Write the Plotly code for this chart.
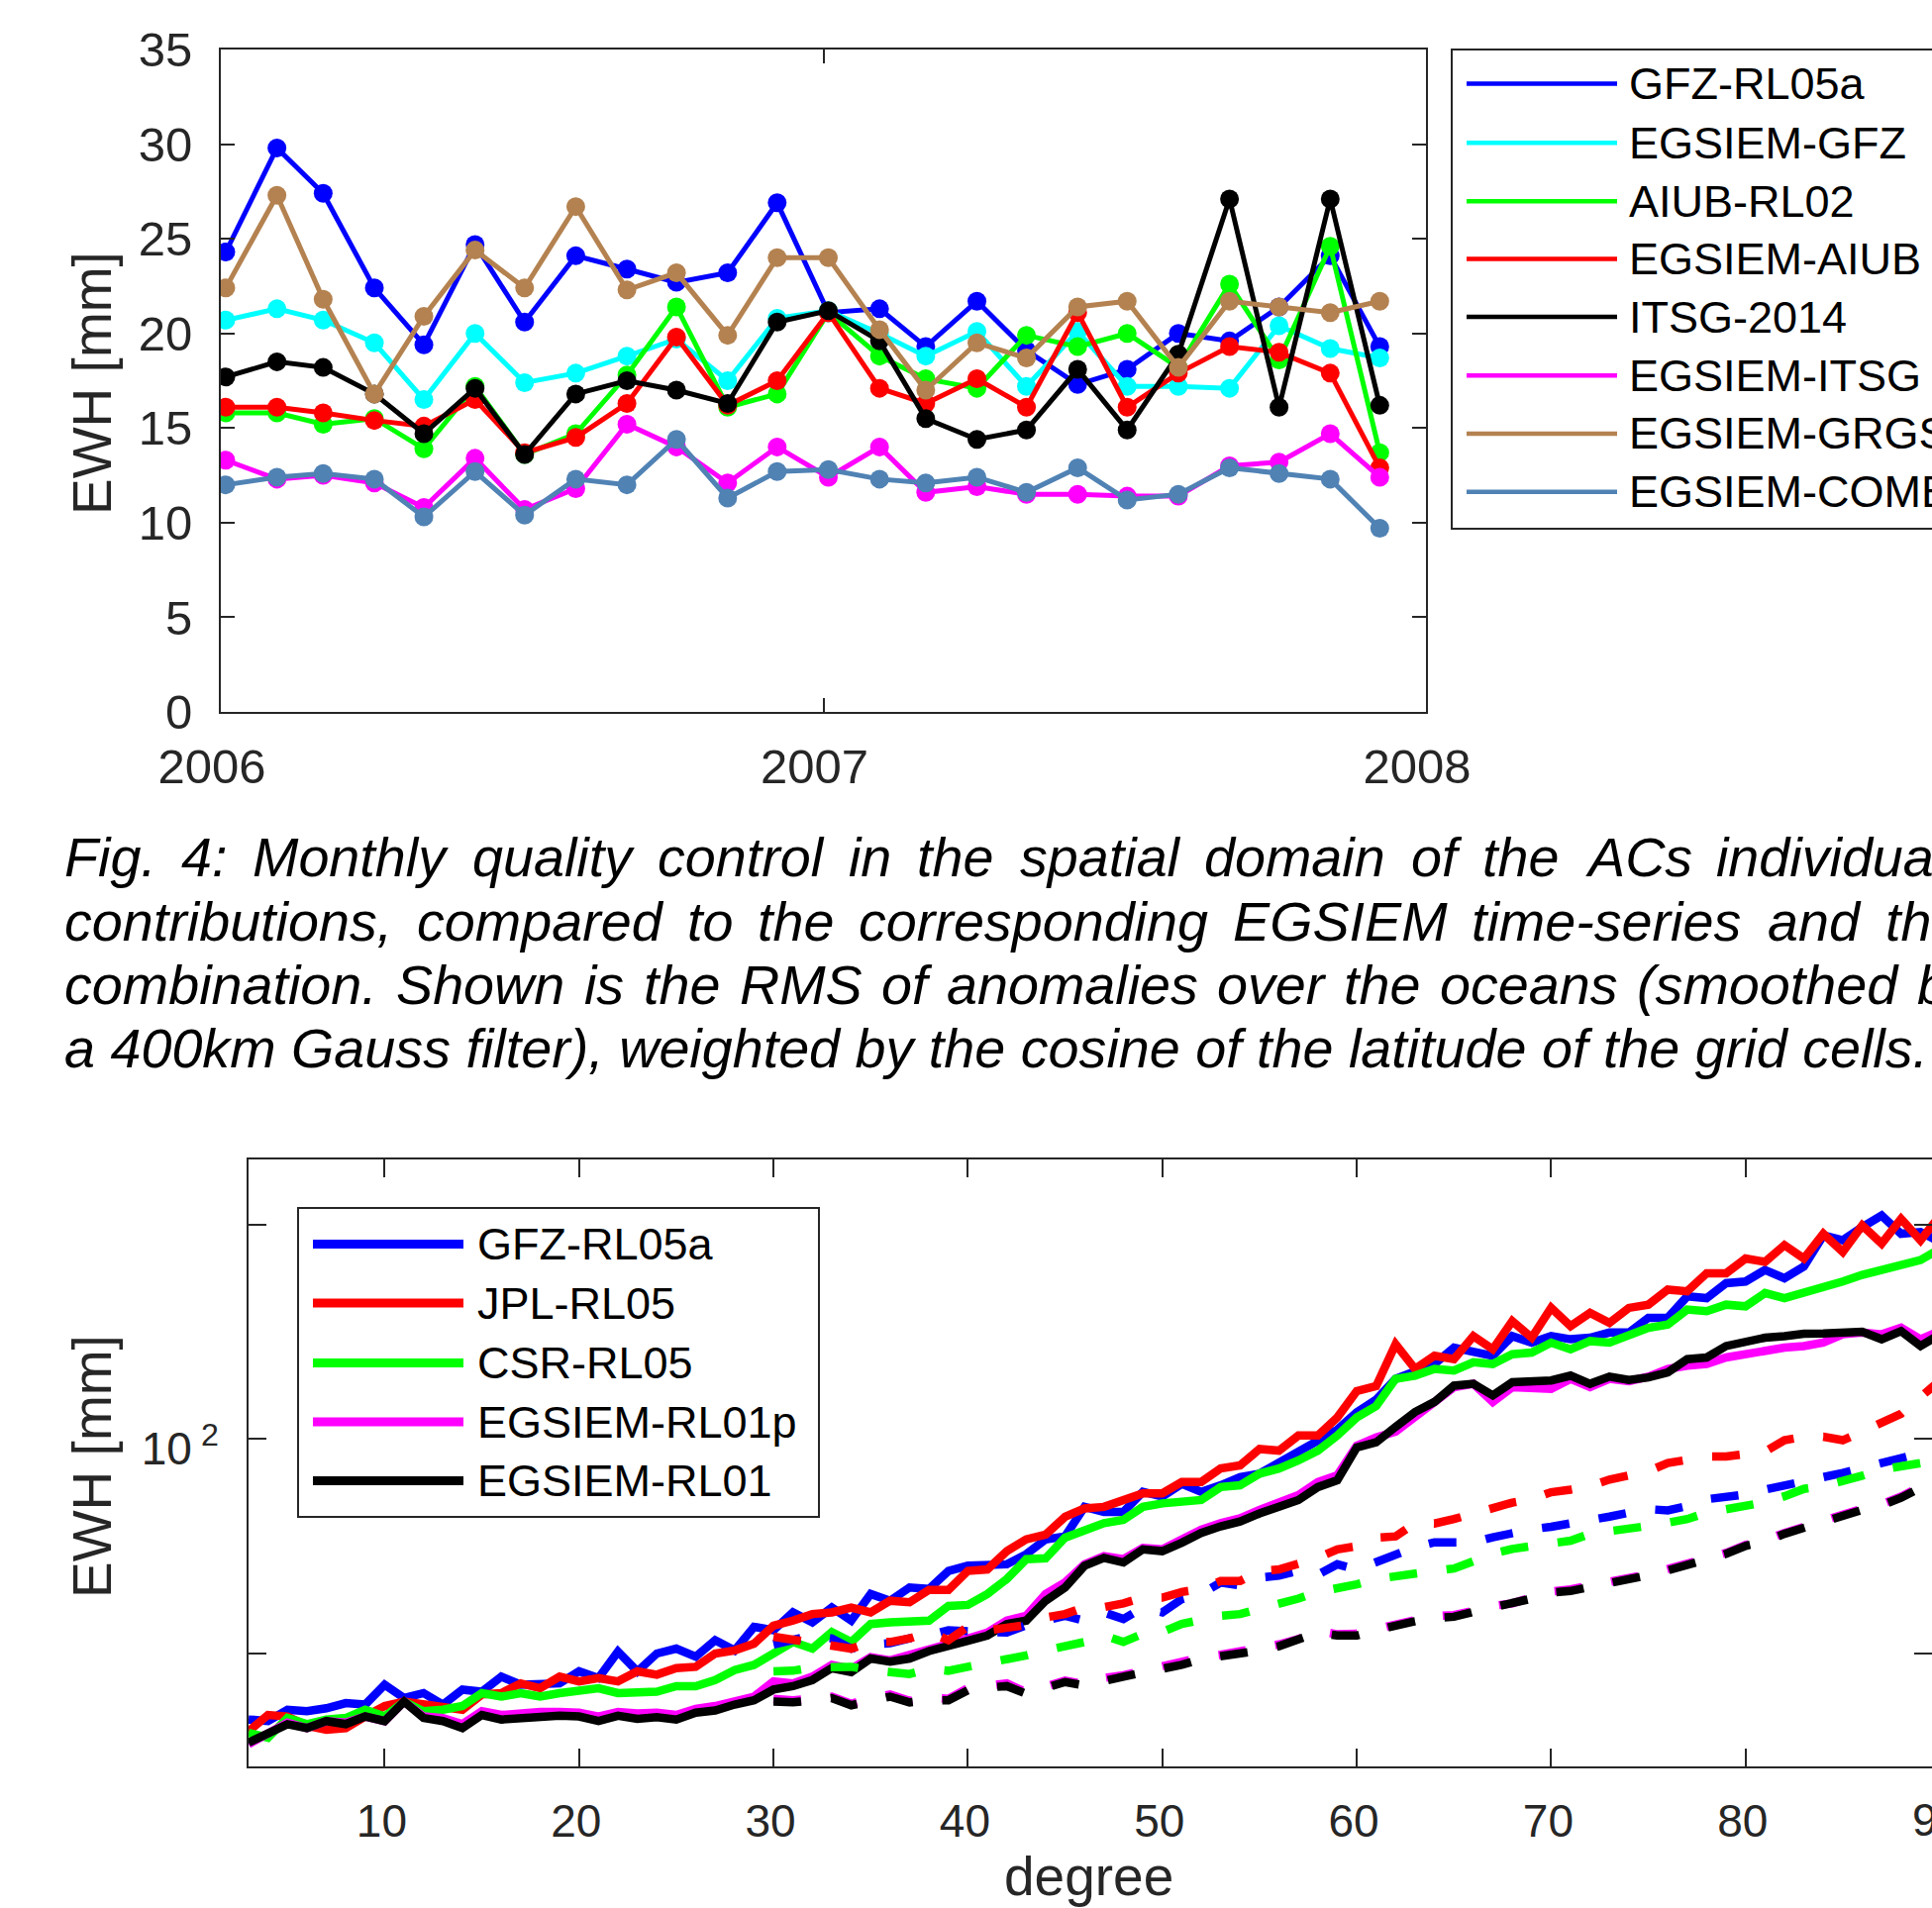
import plotly.graph_objects as go

W, H = 1951, 1927
AX = "#262626"
FONT = "Liberation Sans, Arial, Helvetica, sans-serif"


def fx(p):
    return p / W


def fy(p):
    return 1 - p / H


# ---------------- top chart data (RMS over oceans, mm) ----------------
months = ["2006-01-04", "2006-02-04", "2006-03-04", "2006-04-04", "2006-05-04", "2006-06-04",
          "2006-07-04", "2006-08-04", "2006-09-04", "2006-10-04", "2006-11-04", "2006-12-04",
          "2007-01-04", "2007-02-04", "2007-03-04", "2007-04-04", "2007-05-04", "2007-06-04",
          "2007-07-04", "2007-08-04", "2007-09-04", "2007-10-04", "2007-11-04", "2007-12-04"]
year_ticks = ["2006-01-01", "2007-01-01", "2008-01-01"]
year_labels = ["2006", "2007", "2008"]

top_names = ["GFZ-RL05a", "EGSIEM-GFZ", "AIUB-RL02", "EGSIEM-AIUB",
             "ITSG-2014", "EGSIEM-ITSG", "EGSIEM-GRGS", "EGSIEM-COMB"]
top_colors = ["#0000FF", "#00FFFF", "#00FF00", "#FF0000",
              "#000000", "#FF00FF", "#B48250", "#5082B4"]

gfz_rl05a = [24.3, 29.8, 27.4, 22.4, 19.4, 24.7, 20.6, 24.1, 23.4, 22.7, 23.2, 26.9,
             21.1, 21.3, 19.3, 21.7, 19.1, 17.3, 18.1, 20.0, 19.6, 21.4, 24.1, 19.3]
egsiem_gfz = [20.7, 21.3, 20.7, 19.5, 16.5, 20.0, 17.4, 17.9, 18.8, 19.7, 17.5, 20.8,
              21.2, 20.0, 18.8, 20.1, 17.2, 20.1, 17.2, 17.2, 17.1, 20.4, 19.2, 18.7]
aiub_rl02 = [15.8, 15.8, 15.2, 15.5, 13.9, 17.2, 13.6, 14.7, 17.8, 21.4, 16.1, 16.8,
             21.1, 18.8, 17.6, 17.1, 19.9, 19.3, 20.0, 18.2, 22.6, 18.6, 24.6, 13.7]
egsiem_aiub = [16.1, 16.1, 15.8, 15.4, 15.1, 16.5, 13.7, 14.5, 16.3, 19.8, 16.2, 17.5,
               21.1, 17.1, 16.3, 17.6, 16.1, 21.1, 16.1, 17.9, 19.3, 19.0, 17.9, 12.9]
itsg_2014 = [17.7, 18.5, 18.2, 16.8, 14.7, 17.1, 13.6, 16.8, 17.5, 17.0, 16.3, 20.6,
             21.2, 19.6, 15.5, 14.4, 14.9, 18.1, 14.9, 18.9, 27.1, 16.1, 27.1, 16.2]
egsiem_itsg = [13.3, 12.3, 12.5, 12.1, 10.8, 13.4, 10.7, 11.8, 15.2, 14.0, 12.1, 14.0,
               12.4, 14.0, 11.6, 11.9, 11.5, 11.5, 11.4, 11.4, 13.0, 13.2, 14.7, 12.4]
egsiem_grgs = [22.4, 27.3, 21.8, 16.8, 20.9, 24.4, 22.4, 26.7, 22.3, 23.2, 19.9, 24.0,
               24.0, 20.2, 17.0, 19.5, 18.7, 21.4, 21.7, 18.2, 21.7, 21.4, 21.1, 21.7]
egsiem_comb = [12.0, 12.4, 12.6, 12.3, 10.3, 12.7, 10.4, 12.3, 12.0, 14.4, 11.3, 12.7,
               12.8, 12.3, 12.1, 12.4, 11.6, 12.9, 11.2, 11.5, 12.9, 12.6, 12.3, 9.7]
top_values = [gfz_rl05a, egsiem_gfz, aiub_rl02, egsiem_aiub,
              itsg_2014, egsiem_itsg, egsiem_grgs, egsiem_comb]

# ---------------- bottom chart data (degree variances, mm) ----------------
degrees = list(range(3, 91))
degrees_dashed = list(range(30, 91))
bottom_names = ["GFZ-RL05a", "JPL-RL05", "CSR-RL05", "EGSIEM-RL01p", "EGSIEM-RL01"]
bottom_colors = ["#0000FF", "#FF0000", "#00FF00", "#FF00FF", "#000000"]

gfz_solid = [40.4, 40.2, 41.7, 41.5, 41.9, 42.6, 42.4, 45.2, 43.3, 44.0, 42.4, 44.5, 44.2, 46.4,
             45.2, 45.2, 45.4, 47.2, 46.2, 50.3, 47.2, 50.0, 50.8, 49.5, 52.2, 50.5, 54.5, 53.9,
             57.1, 55.3, 58.0,
             55.6, 60.6, 59.3, 61.9, 61.6, 65.3, 66.4, 66.7, 66.7, 68.9, 72.3, 73.0, 80.3, 79.0,
             79.0, 84.3, 83.0, 86.5, 84.3, 86.1, 88.4, 89.4, 92.5, 95.5, 99.0, 103.0, 109.0, 113.5,
             121.4, 124.7, 127.4, 134.3, 132.2, 130.8, 139.4, 136.5, 139.4, 138.0, 138.7, 141.0,
             141.0, 147.9, 147.9, 158.5, 157.6, 165.4, 166.3, 172.6, 168.1, 174.5, 193.0, 190.0,
             198.2, 205.8, 194.0, 195.1, 189.0]
jpl_solid = [38.9, 41.0, 40.8, 39.6, 39.1, 39.3, 40.8, 42.2, 42.8, 42.4, 42.2, 41.7, 43.8, 44.0,
             45.4, 44.7, 46.4, 45.7, 46.2, 45.7, 47.2, 46.7, 47.7, 47.9, 50.0, 50.5, 51.6, 54.7,
             55.6, 56.8, 57.1,
             58.0, 57.1, 59.3, 59.0, 61.4, 61.4, 65.3, 65.6, 69.6, 72.3, 73.4, 77.8, 79.9, 80.3,
             82.1, 83.9, 83.9, 87.0, 87.0, 90.9, 91.8, 96.8, 96.3, 101.1, 101.1, 107.2, 116.7, 118.6,
             135.8, 125.4, 130.8, 129.4, 139.4, 133.6, 146.3, 138.7, 152.7, 144.0, 150.3, 145.5,
             152.7, 154.3, 162.0, 161.1, 170.8, 170.8, 179.1, 177.2, 187.0, 179.1, 194.0, 183.0,
             199.3, 188.0, 203.5, 190.0, 205.8]
csr_solid = [38.7, 38.1, 40.6, 39.8, 40.4, 40.6, 41.7, 40.8, 42.8, 41.5, 41.7, 42.2, 44.0, 43.5,
             44.0, 43.5, 44.0, 44.5, 44.7, 44.0, 44.0, 44.2, 45.0, 45.0, 45.9, 47.4, 48.2, 50.0,
             51.9, 50.8, 53.6,
             51.9, 55.0, 55.3, 55.4, 55.6, 58.3, 58.5, 60.6, 63.6, 67.8, 68.0, 72.7, 74.2, 76.2,
             77.0, 80.3, 81.2, 81.7, 82.1, 85.6, 86.1, 89.4, 90.9, 93.3, 96.3, 101.1, 107.2, 111.2,
             121.4, 122.7, 125.4, 124.7, 128.1, 127.4, 131.5, 132.2, 136.5, 133.6, 137.2, 136.5,
             140.2, 143.2, 144.7, 151.9, 151.1, 154.3, 153.5, 160.2, 157.6, 160.2, 163.6, 166.3,
             169.9, 172.6, 175.4, 178.2, 184.9]
rl01p_solid = [37.3, 38.7, 40.0, 39.3, 40.2, 40.0, 40.8, 40.2, 42.8, 40.8, 40.6, 39.8, 41.5, 41.0,
               41.3, 41.4, 41.4, 41.3, 40.8, 41.4, 41.2, 41.3, 41.0, 41.8, 42.2, 42.8, 43.5, 45.7,
               45.4, 46.4, 48.2,
               47.6, 49.4, 48.9, 49.7, 50.8, 51.4, 52.5, 53.5, 55.6, 56.5, 60.6, 62.9, 66.7, 68.5,
               67.8, 70.3, 70.0, 72.3, 74.6, 76.2, 77.4, 79.5, 81.7, 83.4, 87.0, 88.9, 97.8, 100.5,
               102.4, 107.4, 112.1, 118.2, 119.5, 112.7, 118.2, 118.2, 117.6, 121.4, 118.2, 121.4,
               120.5, 122.3, 125.4, 126.7, 127.4, 130.1, 131.5, 133.6, 134.3, 135.0, 136.5, 140.2,
               141.0, 140.2, 143.2, 138.0, 141.7]
rl01_solid = [37.5, 38.5, 39.8, 39.3, 40.2, 39.8, 40.8, 40.2, 42.8, 40.6, 40.2, 39.3, 41.0, 40.4,
              40.6, 40.8, 40.9, 40.8, 40.2, 40.9, 40.5, 40.7, 40.4, 41.3, 41.6, 42.4, 43.0, 44.5,
              45.0, 45.9, 47.7,
              47.1, 49.2, 48.7, 49.2, 50.4, 51.1, 52.1, 53.0, 55.0, 55.6, 59.3, 61.9, 66.4, 68.1,
              67.1, 70.0, 69.6, 71.5, 73.8, 75.4, 76.6, 78.6, 80.3, 82.1, 85.6, 87.5, 97.3, 98.9,
              104.0, 109.1, 112.7, 118.8, 119.5, 115.1, 120.1, 120.8, 120.8, 122.7, 119.5, 122.3,
              121.0, 122.0, 124.0, 129.4, 130.1, 135.0, 137.2, 138.7, 139.4, 140.5, 140.6, 141.0,
              141.4, 138.0, 141.7, 135.0, 140.2]

gfz_dashed = [51.5, 52.2, 53.0,
              52.5, 50.8, 51.5, 51.7, 52.5, 53.0, 53.9, 53.9, 53.6, 53.5, 54.8, 55.6, 56.5, 55.6,
              57.1, 55.9, 58.0, 57.1, 59.6, 60.6, 62.9, 62.3, 63.9, 64.3, 65.3, 64.5, 66.7, 65.6,
              67.2,
              68.4, 70.5, 71.6, 71.6, 71.6, 72.8, 74.0, 74.7, 75.3, 76.3, 77.2, 77.8, 78.8, 79.7,
              79.4, 80.5, 82.3, 82.9, 83.6, 84.9, 85.9, 87.2, 88.4, 89.6, 91.0, 92.5, 94.0, 95.5,
              98.1]
jpl_dashed = [52.8, 52.3, 51.8,
              51.1, 50.8, 51.9, 51.9, 52.5, 53.6, 52.2, 54.5, 53.9, 54.2, 54.8, 56.2, 56.8, 58.1,
              58.1, 58.8, 59.9, 59.9, 61.0, 61.6, 63.2, 63.2, 65.3, 65.6, 66.7, 68.1, 70.0, 70.7,
              72.7, 73.0, 76.2,
              76.1, 77.2, 78.7, 80.1, 81.4, 82.3, 84.2, 84.9, 85.9, 87.7, 89.1, 90.1, 92.5, 93.5,
              94.5, 94.5, 95.0, 96.0, 99.6, 100.7, 100.7, 99.6, 102.4, 105.1, 108.5, 114.5, 120.8]
csr_dashed = [47.2, 47.3, 47.8,
              48.0, 47.9, 47.4, 47.0, 46.8, 47.6, 47.3, 47.9, 48.4, 49.2, 49.7, 50.5, 51.1, 51.9,
              53.0, 51.9, 53.3, 53.6, 55.0, 55.9, 56.5, 56.8, 57.7, 58.6, 59.7, 61.0, 61.6, 62.5,
              63.6,
              64.3, 64.9, 65.3, 65.8, 67.6, 69.0, 70.1, 70.7, 71.2, 72.0, 73.6, 74.1, 74.7, 75.5,
              76.3, 77.2, 78.8, 79.7, 80.5, 81.5, 83.1, 85.1, 85.9, 87.2, 88.8, 90.6, 91.5, 92.5,
              95.0]
rl01p_dashed = [43.2, 43.0, 43.2,
                43.5, 42.5, 43.3, 43.8, 42.9, 43.4, 43.2, 44.7, 45.2, 45.4, 44.1, 45.0, 45.8, 45.3,
                46.2, 46.6, 47.3, 47.7, 48.5, 49.4, 49.8, 50.4, 50.8, 51.5, 52.4, 53.8, 53.2, 53.3,
                54.1,
                55.0, 55.7, 56.4, 56.6, 57.4, 58.3, 58.8, 59.9, 61.1, 61.5, 62.2, 62.9, 64.0, 64.6,
                65.7, 66.7, 68.1, 69.2, 71.0, 72.1, 73.8, 75.4, 76.8, 78.3, 79.8, 81.0, 83.0, 85.7,
                87.5]
rl01_dashed = [42.8, 42.7, 43.0,
               43.3, 42.3, 43.0, 43.5, 42.7, 43.0, 43.0, 44.4, 44.8, 45.0, 43.9, 44.8, 45.6, 45.1,
               45.9, 46.4, 47.0, 47.5, 48.2, 49.1, 49.5, 50.1, 50.5, 51.2, 52.2, 53.5, 53.0, 53.0,
               53.9,
               54.8, 55.5, 56.1, 56.3, 57.2, 58.0, 58.5, 59.7, 60.9, 61.2, 62.0, 62.7, 63.7, 64.4,
               65.4, 66.5, 67.8, 69.0, 70.8, 71.8, 73.6, 75.1, 76.5, 78.0, 79.5, 80.7, 82.7, 85.4,
               87.2]

bottom_solid = [gfz_solid, jpl_solid, csr_solid, rl01p_solid, rl01_solid]
bottom_dashed = [gfz_dashed, jpl_dashed, csr_dashed, rl01p_dashed, rl01_dashed]
x_ticks_bottom = [10, 20, 30, 40, 50, 60, 70, 80]
y_major_bottom = [100]
y_major_labels = ["10<sup>\u00a02</sup>"]
y_minor_bottom = [50, 200]

fig = go.Figure()

for name, vals, col in zip(top_names, top_values, top_colors):
    fig.add_trace(go.Scatter(x=months, y=vals, mode="lines+markers", name=name,
                             line=dict(color=col, width=5),
                             marker=dict(color=col, size=19, line=dict(width=0)),
                             xaxis="x", yaxis="y", showlegend=False))

for name, vals, col in zip(bottom_names, bottom_solid, bottom_colors):
    fig.add_trace(go.Scatter(x=degrees, y=vals, mode="lines", name=name,
                             line=dict(color=col, width=8.5),
                             xaxis="x2", yaxis="y2", showlegend=False))
for name, vals, col in zip(bottom_names, bottom_dashed, bottom_colors):
    fig.add_trace(go.Scatter(x=degrees_dashed, y=vals, mode="lines", name=name + " (dashed)",
                             line=dict(color=col, width=8.5, dash="28px,30px"),
                             xaxis="x2", yaxis="y2", showlegend=False))

axis_common = dict(showline=True, linecolor=AX, linewidth=2, mirror="ticks",
                   ticks="inside", tickcolor=AX, tickwidth=2,
                   showgrid=False, zeroline=False, automargin=False)

fig.update_layout(
    width=W, height=H, autosize=False,
    margin=dict(l=0, r=0, t=0, b=0, pad=0),
    paper_bgcolor="white", plot_bgcolor="white",
    font=dict(family=FONT, color=AX),
    showlegend=False,
    xaxis=dict(domain=[fx(223), fx(1440)], anchor="y", type="date",
               range=["2006-01-01", "2008-01-01"], tickmode="array",
               tickvals=year_ticks, ticktext=year_labels, ticklen=14,
               tickfont=dict(size=49, color=AX, family=FONT), ticklabelstandoff=11,
               ticklabelshift=-9, **axis_common),
    yaxis=dict(domain=[fy(719), fy(50)], anchor="x", range=[0, 35], tick0=0, dtick=5,
               ticklen=14, tickfont=dict(size=49, color=AX, family=FONT),
               ticklabelstandoff=17, **axis_common),
    xaxis2=dict(domain=[fx(251), 1.0], anchor="y2", range=[3, 89.59], tickmode="array",
                tickvals=x_ticks_bottom, ticklen=18,
                tickfont=dict(size=46, color=AX, family=FONT), ticklabelstandoff=14,
                ticklabelshift=-3, **axis_common),
    yaxis2=dict(domain=[fy(1784), fy(1171)], anchor="x2", type="log",
                range=[1.5406, 2.3921], tickmode="array", tickvals=y_major_bottom,
                ticktext=y_major_labels, ticklen=18,
                tickfont=dict(size=46, color=AX, family=FONT), ticklabelstandoff=19,
                ticklabelshift=10,
                minor=dict(tickmode="array", tickvals=y_minor_bottom, ticks="inside",
                           ticklen=18, tickwidth=2, tickcolor=AX, showgrid=False),
                **axis_common),
)

shapes = []
annotations = []

# top legend (box runs past the right edge of the page)
shapes.append(dict(type="rect", xref="paper", yref="paper", x0=fx(1466), x1=fx(2300),
                   y0=fy(534), y1=fy(50), line=dict(color=AX, width=2), fillcolor="white",
                   layer="above"))
top_rows = [84.6, 144.3, 203.2, 261.4, 320.0, 379.3, 437.9, 496.8]
for name, col, ry in zip(top_names, top_colors, top_rows):
    shapes.append(dict(type="line", xref="paper", yref="paper", x0=fx(1481), x1=fx(1633),
                       y0=fy(ry), y1=fy(ry), line=dict(color=col, width=4.5), layer="above"))
    annotations.append(dict(text=name, xref="paper", yref="paper", x=fx(1643), y=fy(ry),
                            xanchor="left", yanchor="middle", showarrow=False,
                            font=dict(size=45, color="black", family=FONT)))

# bottom legend
shapes.append(dict(type="rect", xref="paper", yref="paper", x0=fx(301), x1=fx(827),
                   y0=fy(1532), y1=fy(1220), line=dict(color=AX, width=2), fillcolor="white",
                   layer="above"))
bot_rows = [1256.5, 1316.0, 1376.5, 1436.0, 1495.4]
for name, col, ry in zip(bottom_names, bottom_colors, bot_rows):
    shapes.append(dict(type="line", xref="paper", yref="paper", x0=fx(316), x1=fx(468),
                       y0=fy(ry), y1=fy(ry), line=dict(color=col, width=9), layer="above"))
    annotations.append(dict(text=name, xref="paper", yref="paper", x=fx(480), y=fy(ry),
                            xanchor="left", yanchor="middle", showarrow=False,
                            font=dict(size=45, color="black", family=FONT)))

# axis titles
for cy in (387, 1481):
    annotations.append(dict(text="EWH [mm]", xref="paper", yref="paper", x=fx(93), y=fy(cy),
                            xanchor="center", yanchor="middle", textangle=-90, showarrow=False,
                            font=dict(size=55, color=AX, family=FONT)))
annotations.append(dict(text="degree", xref="paper", yref="paper", x=fx(1099), y=fy(1895),
                        xanchor="center", yanchor="middle", showarrow=False,
                        font=dict(size=55, color=AX, family=FONT)))
# last x tick label of the lower panel, partly outside the page
annotations.append(dict(text="90", xref="paper", yref="paper", x=fx(1956), y=fy(1838),
                        xanchor="center", yanchor="middle", showarrow=False,
                        font=dict(size=46, color=AX, family=FONT)))

# caption (justified lines, words placed individually)
CAP = 55.7
caption_words = [
    (885, [(65, "Fig."), (183, "4:"), (255, "Monthly"), (477, "quality"), (664, "control"),
           (857, "in"), (926, "the"), (1030, "spatial"), (1216, "domain"), (1425, "of"),
           (1497, "the"), (1601, "ACs"), (1733, "individual")]),
    (950, [(65, "contributions,"), (421, "compared"), (694, "to"), (765, "the"),
           (867, "corresponding"), (1245, "EGSIEM"), (1486, "time-series"), (1785, "and"),
           (1904, "the")]),
    (1014, [(65, "combination."), (400, "Shown"), (590, "is"), (650, "the"), (747, "RMS"),
            (890, "of"), (956, "anomalies"), (1229, "over"), (1357, "the"), (1454, "oceans"),
            (1653, "(smoothed"), (1936, "by")]),
    (1078, [(65, "a 400km Gauss filter), weighted by the cosine of the latitude of the grid cells.")]),
]
for base, words in caption_words:
    for x0, w in words:
        annotations.append(dict(text=w, xref="paper", yref="paper", x=fx(x0 - 2),
                                y=fy(base - 0.3465 * CAP), xanchor="left", yanchor="middle",
                                showarrow=False,
                                font=dict(size=CAP, color="black", family=FONT, style="italic")))

fig.update_layout(shapes=shapes, annotations=annotations)

fig.write_html("out.html", include_plotlyjs=True, config={"displayModeBar": False},
               post_script="document.body.style.margin='0';document.body.style.overflow='hidden';")
